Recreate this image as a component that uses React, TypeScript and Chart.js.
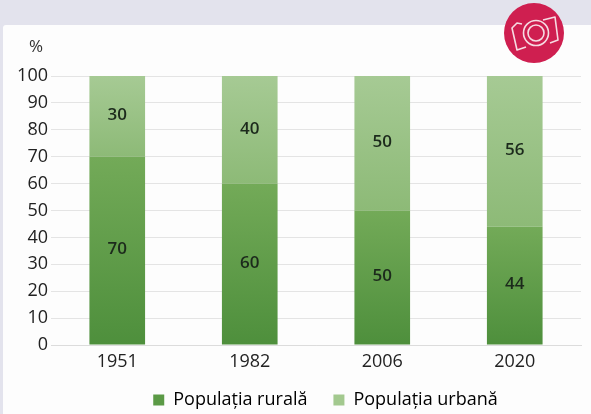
import React, { useEffect, useRef } from "react";
import { Chart, registerables } from "chart.js";

Chart.register(...registerables);

const years = ["1951", "1982", "2006", "2020"];
const rural = [70, 60, 50, 44];
const urban = [30, 40, 50, 56];
const yStep = 10;
const unitLabel = "%";
const ruralName = "Populația rurală";
const urbanName = "Populația urbană";

const FONT = '"Open Sans", sans-serif';
const TEXT = "#222222";

function gradient(ctx: any, stops: [string, string], fromV: number, toV: number, fallback: string) {
  const chart = ctx.chart;
  if (!chart.chartArea || !chart.scales.y || ctx.dataIndex === undefined) return fallback;
  const y = chart.scales.y;
  const g = chart.ctx.createLinearGradient(0, y.getPixelForValue(fromV), 0, y.getPixelForValue(toV));
  g.addColorStop(0, stops[0]);
  g.addColorStop(1, stops[1]);
  return g;
}

const segmentLabels = {
  id: "segmentLabels",
  afterDatasetsDraw(chart: any) {
    const { ctx } = chart;
    ctx.save();
    ctx.font = `600 17px ${FONT}`;
    ctx.fillStyle = "#1c2a1c";
    ctx.textAlign = "center";
    ctx.textBaseline = "middle";
    chart.data.datasets.forEach((ds: any, di: number) => {
      chart.getDatasetMeta(di).data.forEach((bar: any, i: number) => {
        const c = bar.getCenterPoint();
        ctx.fillText(String(ds.data[i]), c.x, c.y - 1);
      });
    });
    ctx.restore();
  },
};

const unitMark = {
  id: "unitMark",
  afterDraw(chart: any) {
    const { ctx, scales } = chart;
    ctx.save();
    ctx.font = `17px ${FONT}`;
    ctx.fillStyle = "#333333";
    ctx.textAlign = "right";
    ctx.textBaseline = "middle";
    ctx.fillText(unitLabel, 43, scales.y.getPixelForValue(100) - 29);
    ctx.restore();
  },
};

const legendFit = {
  id: "legendFit",
  beforeInit(chart: any) {
    const legend = chart.legend;
    const fit = legend.fit;
    legend.fit = function () {
      fit.call(this);
      this.height = 39;
    };
  },
  afterLayout(chart: any) {
    const legend = chart.legend;
    legend.left += 35;
    legend.right += 35;
    legend.top = 365;
    legend.height = 49;
    legend.bottom = 414;
  },
};

export default function App() {
  const ref = useRef<HTMLCanvasElement | null>(null);
  useEffect(() => {
    document.body.style.margin = "0";
    const chart = new Chart(ref.current as HTMLCanvasElement, {
      type: "bar",
      data: {
        labels: years,
        datasets: [
          {
            label: ruralName,
            data: rural,
            backgroundColor: (c: any) =>
              gradient(c, ["#73aa58", "#4e8f3c"], rural[c.dataIndex], 0, "#5b9a46"),
            barPercentage: 0.42,
            categoryPercentage: 1,
            borderWidth: 0,
          },
          {
            label: urbanName,
            data: urban,
            backgroundColor: (c: any) =>
              gradient(c, ["#a6ca94", "#8dba77"], 100, rural[c.dataIndex], "#a3c98f"),
            barPercentage: 0.42,
            categoryPercentage: 1,
            borderWidth: 0,
          },
        ],
      },
      options: {
        responsive: false,
        animation: false,
        layout: { padding: { top: 76, left: 0, right: 10, bottom: 0 } },
        plugins: {
          tooltip: { enabled: false },
          legend: {
            position: "bottom",
            labels: {
              boxWidth: 11,
              boxHeight: 11,
              padding: 26,
              color: "#2a2a2a",
              font: { family: FONT, size: 18 },
              generateLabels: () => [
                { text: ruralName, fillStyle: "#5b9a46", strokeStyle: "#5b9a46", lineWidth: 0, datasetIndex: 0 },
                { text: urbanName, fillStyle: "#a3c98f", strokeStyle: "#a3c98f", lineWidth: 0, datasetIndex: 1 },
              ],
            },
          },
        },
        scales: {
          x: {
            stacked: true,
            grid: { display: false, drawTicks: false },
            border: { color: "#dcdcdc", width: 1 },
            ticks: { color: TEXT, font: { family: FONT, size: 18 }, padding: 6, maxRotation: 0 },
            afterFit: (s: any) => { s.height = 30; },
          },
          y: {
            stacked: true,
            min: 0,
            max: 100,
            grid: { color: "#e4e4e4", lineWidth: 1, drawTicks: false },
            border: { display: false },
            ticks: { stepSize: yStep, color: TEXT, font: { family: FONT, size: 18 }, padding: 3 },
            afterFit: (s: any) => { s.width = 51; },
          },
        },
      },
      plugins: [segmentLabels, unitMark, legendFit],
    } as any);
    return () => chart.destroy();
  }, []);

  return (
    <div style={{ position: "relative", width: 591, height: 414, background: "#e3e3ed", overflow: "hidden" }}>
      <div style={{ position: "absolute", left: 3, top: 25, right: 0, bottom: 0, background: "#fdfdfd", borderTopLeftRadius: 3 }} />
      <canvas ref={ref} width={591} height={414} style={{ position: "absolute", left: 0, top: 0, display: "block", filter: "blur(0.4px)" }} />
      <svg width={62} height={62} viewBox="0 0 62 62" style={{ position: "absolute", left: 503, top: 2 }}>
        <circle cx={31} cy={31} r={30} fill="#cf1f50" />
        <g fill="none" stroke="#f6dbe2" strokeWidth={1.6} strokeLinejoin="round">
          <path d="M19 22 L14 21 L9 26 L14 48 L23 45" />
          <path d="M40 18 L52 15 L55 38 L47 41" />
          <circle cx={33} cy={31} r={12.5} />
          <circle cx={33} cy={31} r={8} />
        </g>
      </svg>
    </div>
  );
}
